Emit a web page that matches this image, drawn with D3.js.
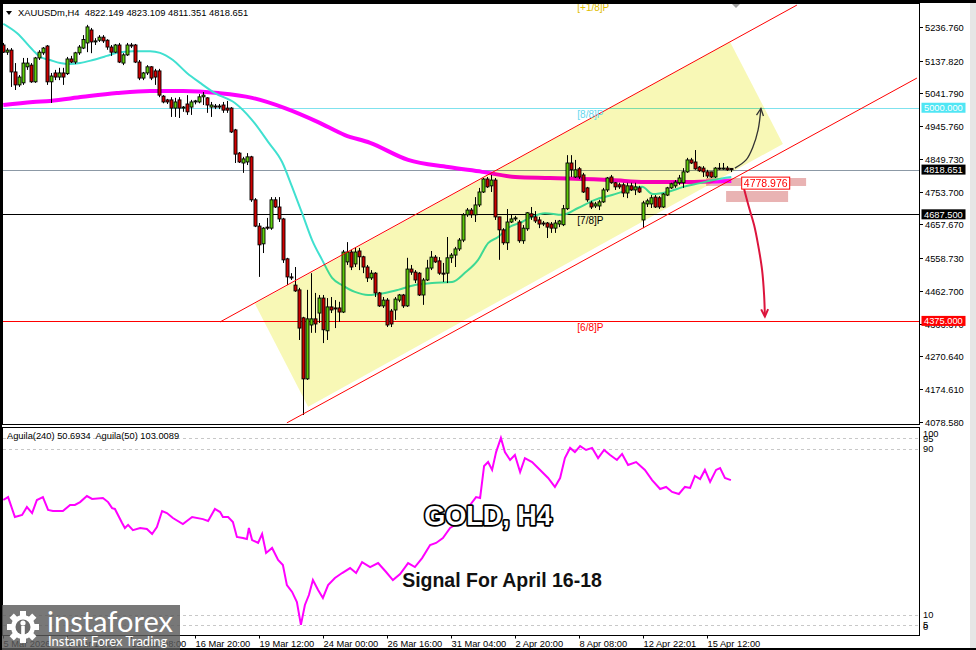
<!DOCTYPE html>
<html>
<head>
<meta charset="utf-8">
<script src="https://cdn.jsdelivr.net/npm/d3@7/dist/d3.min.js"></script>
<style>
  html, body { margin:0; padding:0; background:#ffffff; }
  svg { display:block; }
  text { font-family: "Liberation Sans", Arial, sans-serif; }
</style>
</head>
<body>
<svg id="chart" width="976" height="650"></svg>
<script>
// ---------------- DATA ----------------
const symbolHeader = "XAUUSDm,H4  4822.149 4823.109 4811.351 4818.651";
const indicatorHeader = "Aguila(240) 50.6934  Aguila(50) 103.0089";

const opens = [5184,5163,5169,5105,5067,5073,5120,5125,5076,5146,
5161,5181,5076,5102,5090,5102,5100,5143,5134,5161,
5175,5190,5228,5193,5198,5207,5198,5178,5163,5184,
5131,5155,5184,5184,5134,5087,5102,5120,5108,5108,
5034,5023,5023,4999,5023,4999,5011,5002,5017,5017,
5032,5029,5002,5005,5002,5008,4999,4999,4935,4867,
4838,4841,4856,4730,4653,4601,4650,4647,4730,4709,
4674,4557,4504,4480,4466,4384,4205,4363,4381,4398,
4442,4346,4416,4413,4413,4401,4548,4577,4542,4580,
4563,4533,4501,4515,4457,4419,4436,4404,4407,4436,
4451,4419,4527,4518,4515,4451,4495,4530,4562,4551,
4515,4515,4560,4568,4586,4612,4686,4700,4686,4715,
4753,4791,4771,4788,4680,4642,4604,4665,4674,4665,
4610,4645,4689,4680,4671,4662,4662,4659,4647,4659,
4657,4704,4838,4797,4821,4803,4765,4721,4712,4712,
4724,4759,4797,4780,4774,4774,4750,4771,4759,4765,
4671,4718,4718,4738,4736,4709,4744,4765,4771,4780,
4780,4812,4847,4841,4826,4823,4812,4812,4797,4823,
4821,4823,4822.149];

const highs = [5190,5175,5175,5131,5096,5146,5146,5131,5149,5169,
5178,5184,5102,5111,5117,5117,5149,5152,5164,5184,
5213,5243,5234,5204,5213,5213,5201,5184,5187,5190,
5160,5190,5190,5187,5140,5105,5125,5122,5114,5114,
5037,5026,5031,5029,5031,5005,5037,5023,5023,5040,
5046,5031,5017,5011,5011,5017,5020,5002,4938,4870,
4856,4867,4859,4735,4662,4650,4677,4738,4738,4738,
4677,4560,4515,4533,4472,4387,4466,4515,4457,4451,
4451,4442,4445,4436,4431,4583,4606,4583,4589,4589,
4566,4539,4524,4518,4460,4445,4442,4410,4445,4454,
4454,4560,4539,4524,4518,4501,4554,4580,4568,4562,
4545,4621,4574,4592,4618,4691,4706,4706,4738,4765,
4794,4797,4803,4794,4680,4647,4703,4686,4683,4671,
4656,4694,4709,4697,4680,4668,4665,4665,4671,4671,
4715,4861,4861,4847,4826,4809,4768,4727,4724,4730,
4765,4797,4803,4782,4780,4780,4780,4780,4780,4771,
4727,4733,4744,4744,4741,4750,4768,4780,4788,4803,
4823,4853,4853,4876,4829,4829,4818,4812,4826,4838,
4838,4829,4823.109];

const lows = [5161,5155,5061,5052,5061,5067,5111,5073,5073,5140,
5155,5067,5014,5081,5081,5067,5096,5131,5128,5155,
5172,5163,5160,5184,5193,5190,5170,5152,5160,5131,
5125,5152,5175,5131,5081,5081,5096,5081,5067,5031,
5013,5011,4973,4973,4970,4988,4979,4979,5010,5013,
5008,4985,4973,4996,4996,4985,4985,4926,4838,4838,
4809,4832,4724,4650,4504,4574,4642,4642,4706,4665,
4545,4480,4495,4460,4319,4099,4202,4340,4340,4369,
4310,4319,4398,4354,4372,4398,4539,4524,4533,4524,
4515,4489,4495,4445,4416,4413,4357,4357,4378,4430,
4413,4416,4510,4486,4448,4422,4492,4524,4545,4510,
4489,4486,4545,4533,4580,4606,4680,4677,4665,4709,
4750,4765,4753,4671,4554,4598,4583,4662,4668,4604,
4601,4639,4671,4662,4647,4653,4618,4633,4633,4650,
4653,4700,4797,4794,4791,4750,4724,4703,4706,4700,
4721,4753,4777,4759,4762,4738,4735,4756,4744,4750,
4647,4709,4706,4706,4703,4706,4741,4762,4765,4774,
4765,4809,4835,4818,4812,4797,4794,4794,4794,4818,
4818,4815,4811.351];

const closes = [5163,5169,5105,5067,5090,5131,5131,5076,5146,5163,
5175,5076,5093,5090,5102,5090,5143,5134,5161,5178,
5200,5237,5193,5196,5207,5196,5178,5163,5184,5134,
5155,5184,5181,5134,5087,5102,5120,5087,5090,5037,
5017,5017,4999,5017,4999,5002,4988,5017,5020,5032,
5037,5008,5008,5002,5005,4993,4993,4929,4864,4841,
4850,4856,4730,4653,4598,4647,4647,4730,4709,4674,
4554,4504,4501,4463,4354,4205,4381,4381,4366,4442,
4349,4416,4407,4410,4401,4577,4577,4533,4577,4563,
4533,4501,4515,4457,4419,4436,4363,4366,4439,4451,
4419,4527,4518,4495,4451,4495,4530,4562,4548,4515,
4513,4560,4568,4586,4612,4686,4700,4686,4715,4753,
4791,4768,4788,4680,4642,4604,4665,4674,4677,4610,
4647,4692,4680,4668,4659,4659,4650,4647,4662,4668,
4704,4838,4818,4818,4797,4753,4730,4709,4718,4724,
4759,4794,4780,4768,4768,4750,4771,4759,4768,4753,
4721,4727,4736,4709,4709,4747,4765,4777,4782,4794,
4812,4847,4838,4821,4815,4812,4800,4797,4823,4821,
4823,4818,4818.651];

// moving averages (bar position, price)
const maFastIdx = [0,3.4,7.4,9.2,11.7,14.2,16.7,19.2,22.4,25.9,28.4,32.4,36.7,39.2,42.4,45.9,49.2,52.9,57.9,62.2,
66.2,69.7,72.2,74.7,77.2,79.7,82.2,84.7,87.9,91.2,95.4,98.7,102.9,107.2,112.2,115.4,118.7,121.2,123.7,126.2,
129.7,132.2,135.4,139.7,143.7,147.9,152.2,156.2,159.7,162.4,166,170,174.2,177.4,182];
const maFastVal = [5246,5219,5169,5149,5140,5131,5128,5131,5140,5152,5161,5166,5166,5161,5140,5102,5073,5043,5014,4964,
4900,4841,4768,4691,4612,4554,4501,4480,4460,4451,4457,4466,4480,4486,4489,4516,4554,4603,4621,4648,
4665,4680,4691,4686,4706,4730,4744,4759,4768,4747,4753,4768,4779,4788,4797];
const maSlowIdx = [0,7.4,11.7,19.9,28.4,36.7,45,53.7,62.2,70.4,78.7,85.4,91.7,101.2,111.2,119.7,128,136.7,152.2,160.4,168.7,182];
const maSlowVal = [5008,5017,5020,5032,5043,5049,5049,5043,5029,4999,4958,4920,4897,4847,4826,4812,4797,4794,4788,4782,4782,4785];

// Aguila oscillator (bar position, value)
const aguilaIdx = [0,1.2,2.9,4.7,5.9,7.2,8.4,9.9,11.2,12.4,14.9,16.7,17.9,19.2,20.9,22.2,24.9,26.2,27.2,27.9,
29.7,30.4,31.2,32.4,34.2,35.9,37.2,38.4,39.7,40.9,42.4,44.9,47.2,49.9,51.2,52.9,54.2,54.9,56.2,57.4,
58.4,59.9,60.9,61.4,62.2,63.7,64.7,65.7,67.2,68.7,69.9,70.9,72.2,73.4,74.4,75.4,76.4,77.4,78.7,79.9,
81.2,82.9,84.7,86.7,88.2,89.7,91.7,93.7,95.7,97.4,99.2,101.2,102.9,104.7,106.7,108.2,109.9,111.7,113.7,115.4,
116.7,118.2,119.2,120.2,121.2,122.2,123.2,124.4,125.4,126.7,127.9,129.2,130.4,132.2,134.2,136.2,137.9,139.2,140.4,141.7,
142.9,144.2,145.7,147.2,148.7,150.2,151.7,153.4,154.7,156.2,158.2,160.4,162.2,164.2,165.7,167.2,168.9,170.4,171.7,172.9,
174.2,175.4,176.7,178.2,179.2,180.4,181.9];
const aguilaVal = [65.3,66.7,57.1,58.1,61.9,59.0,65.3,66.7,60.5,60.0,60.0,62.9,62.9,64.3,67.2,65.8,66.3,64.3,61.4,61.0,
54.2,51.8,53.3,50.8,51.8,51.3,48.9,52.3,60.0,59.0,56.6,53.7,57.1,56.1,55.2,61.0,59.5,57.1,57.1,54.7,
47.5,47.0,46.5,51.8,46.0,44.6,48.9,39.8,42.2,36.4,34.0,24.3,21.0,16.1,5.1,14.7,19.5,26.7,21.9,18.1,
24.3,27.7,30.1,32.5,30.1,35.4,33.0,34.9,30.6,26.7,29.6,34.9,33.0,37.3,43.6,44.6,47.0,51.8,54.2,56.6,
62.9,66.7,66.3,81.7,83.6,79.8,88.4,95.2,88.4,84.6,87.0,78.8,85.5,83.6,79.8,75.9,71.6,75.9,85.5,90.4,
88.4,91.3,89.4,90.4,85.5,89.4,87.0,84.6,87.5,82.2,83.6,79.8,74.9,70.6,71.6,69.2,68.2,71.6,71.1,76.9,
75.4,79.8,74.0,79.8,80.7,75.9,74.9];

const priceTicks = [5236.760,5137.820,5041.790,4945.760,4849.730,4753.700,4657.670,4558.730,4462.700,4366.670,4270.640,4174.610,4078.580];
const indicatorTicks = [100,95,90,10,5,0];
const indicatorLevels = [95,90,10,5];
const timeTickIdx = [0,16,32,48,64,80,96,112,128,144,160,176];
const timeTickLabels = ["5 Mar 2026","9 Mar 16:00","12 Mar 08:00","16 Mar 20:00","19 Mar 12:00","24 Mar 00:00","26 Mar 16:00","31 Mar 04:00","2 Apr 20:00","8 Apr 08:00","12 Apr 22:01","15 Apr 12:00"];

const levelPrices = [5312.5, 5000, 4687.5, 4375];
const levelNames = ["[+1/8]P","[8/8]P","[7/8]P","[6/8]P"];
const levelLabelIdx = 143.5;
const currentPrice = 4818.651;

const channelUpper = [[54.2,4372],[198.4,5301]];
const channelLower = [[70.9,4076],[228.4,5087]];
const channelFill = [[62.9,4425],[181.7,5193],[194.9,4894],[76.2,4123]];
const targetUp = [[182.9,4823],[185.7,4847],[187.4,4885],[188.7,4935],[189.4,4998]];
const targetDown = [[185.2,4762],[186.4,4709],[187.7,4656],[188.7,4598],[189.7,4524],[190.2,4451],[190.4,4388]];
const zoneA = [175.7,200.7,4770.6,4794];
const zoneB = [180.7,196.2,4723.6,4755.9];
const pivotIdx = 190.6, pivotPrice = 4778.976;

// ---------------- DRAW ----------------
const svg = d3.select("#chart");
const xs = d3.scaleLinear().domain([0, 228.5]).range([3.3, 917.3]);
const ys = d3.scaleLinear().domain([4072.7, 5301.26]).range([424, 5]);
const yi = d3.scaleLinear().domain([0, 100]).range([635.5, 428]);

svg.append("rect").attr("width",976).attr("height",650).attr("fill","#ffffff");

const defs = svg.append("defs");
defs.append("clipPath").attr("id","mainClip").append("rect")
  .attr("x",3).attr("y",3).attr("width",916.5).attr("height",421.5);
defs.append("clipPath").attr("id","indClip").append("rect")
  .attr("x",3).attr("y",428).attr("width",916.5).attr("height",207);

const main = svg.append("g").attr("clip-path","url(#mainClip)");

// pink zones
[zoneA, zoneB].forEach(z => {
  main.append("rect")
    .attr("x", xs(z[0])).attr("width", xs(z[1]) - xs(z[0]))
    .attr("y", ys(z[3])).attr("height", ys(z[2]) - ys(z[3]))
    .attr("fill", "#e9b3b3");
});

// horizontal levels
const levelLineColors = ["#e8c400","#7fe2ee","#000000","#ff0000"];
const levelTextColors = ["#e0bc00","#66d8ee","#000000","#ff0000"];
levelPrices.forEach((p,i) => {
  const yy = Math.round(ys(p)) + 0.5;
  main.append("line").attr("x1",3).attr("x2",920).attr("y1",yy).attr("y2",yy)
    .attr("stroke",levelLineColors[i]).attr("stroke-width",1);
});
{
  const yy = Math.round(ys(currentPrice)) + 0.5;
  main.append("line").attr("x1",3).attr("x2",920).attr("y1",yy).attr("y2",yy)
    .attr("stroke","#8c99a6").attr("stroke-width",1);
}

// moving averages
const maLine = d3.line().x(d => xs(d[0])).y(d => ys(d[1])).curve(d3.curveMonotoneX);
main.append("path").datum(d3.zip(maSlowIdx, maSlowVal))
  .attr("d", maLine).attr("fill","none").attr("stroke","#ff00ff").attr("stroke-width",4);
main.append("path").datum(d3.zip(maFastIdx, maFastVal))
  .attr("d", maLine).attr("fill","none").attr("stroke","#40e0d0").attr("stroke-width",2);

// candles
const candles = main.append("g");
opens.forEach((o,i) => {
  const h = highs[i], l = lows[i], c = closes[i];
  const cx = Math.round(xs(i)) + 0.5;
  candles.append("line").attr("x1",cx).attr("x2",cx)
    .attr("y1",ys(h)).attr("y2",ys(l)).attr("stroke","#000").attr("stroke-width",1);
  const top = ys(Math.max(o,c)), bot = ys(Math.min(o,c));
  candles.append("rect").attr("x",cx-1.5).attr("width",3)
    .attr("y",top).attr("height",Math.max(1,bot-top))
    .attr("fill", c >= o ? "#5fcf0e" : "#d10000")
    .attr("stroke","#000").attr("stroke-width",0.9);
});

// channel lines
[channelUpper, channelLower].forEach(seg => {
  main.append("line")
    .attr("x1",xs(seg[0][0])).attr("y1",ys(seg[0][1]))
    .attr("x2",xs(seg[1][0])).attr("y2",ys(seg[1][1]))
    .attr("stroke","#ff0000").attr("stroke-width",1);
});

// channel fill (multiplied like a background object)
main.append("path")
  .attr("d", "M" + channelFill.map(d => xs(d[0]) + "," + ys(d[1])).join("L") + "Z")
  .attr("fill","#f8f8b6").style("mix-blend-mode","multiply");

// level labels
levelPrices.forEach((p,i) => {
  svg.append("text").attr("x", xs(levelLabelIdx)).attr("y", ys(p) + 10)
    .attr("font-size", 10).attr("fill", levelTextColors[i]).text(levelNames[i]);
});

// arrows
function arrow(pts, color, width) {
  const line = d3.line().x(d => xs(d[0])).y(d => ys(d[1])).curve(d3.curveCatmullRom);
  main.append("path").datum(pts).attr("d", line).attr("fill","none")
    .attr("stroke", color).attr("stroke-width", width);
  const a = pts[pts.length-2], b = pts[pts.length-1];
  const ax = xs(a[0]), ay = ys(a[1]), bx = xs(b[0]), by = ys(b[1]);
  const ang = Math.atan2(by-ay, bx-ax);
  const L = 8, spread = 0.45;
  const p1 = [bx - L*Math.cos(ang-spread), by - L*Math.sin(ang-spread)];
  const p2 = [bx - L*Math.cos(ang+spread), by - L*Math.sin(ang+spread)];
  main.append("path").attr("d", `M${p1[0]},${p1[1]}L${bx},${by}L${p2[0]},${p2[1]}`)
    .attr("fill","none").attr("stroke",color).attr("stroke-width",width);
}
arrow(targetUp, "#333333", 1.3);
arrow(targetDown, "#dc143c", 2);

// pivot label
{
  const px = xs(pivotIdx), py = ys(pivotPrice);
  main.append("rect").attr("x", px-24).attr("y", py-6).attr("width",48).attr("height",12)
    .attr("fill","#ffffff").attr("stroke","#ff0000").attr("stroke-width",1);
  main.append("text").attr("x", px).attr("y", py+3.8).attr("text-anchor","middle")
    .attr("font-size",10.5).attr("fill","#ff0000").text(pivotPrice.toFixed(3));
}

// shift marker
svg.append("path").attr("d","M731,3L741,3L736,8Z").attr("fill","#a0a0a0");

// ---------------- INDICATOR ----------------
const ind = svg.append("g").attr("clip-path","url(#indClip)");
indicatorLevels.forEach(v => {
  ind.append("line").attr("x1",3).attr("x2",920)
    .attr("y1",Math.round(yi(v))+0.5).attr("y2",Math.round(yi(v))+0.5)
    .attr("stroke","#c8c8c8").attr("stroke-dasharray","3,3");
});
ind.append("path").datum(d3.zip(aguilaIdx, aguilaVal))
  .attr("d", d3.line().x(d => xs(d[0])).y(d => yi(d[1])))
  .attr("fill","none").attr("stroke","#ff00ff").attr("stroke-width",2);

// texts in indicator
svg.append("text").attr("x",7).attr("y",439).attr("font-size",9.3)
  .style("white-space","pre").text(indicatorHeader);
svg.append("text").attr("x",488).attr("y",525).attr("text-anchor","middle")
  .attr("font-size",27).attr("font-weight","bold")
  .attr("fill","#ffffff").attr("stroke","#000000").attr("stroke-width",3.5)
  .style("paint-order","stroke").attr("stroke-linejoin","round").text("GOLD, H4");
svg.append("text").attr("x",502).attr("y",587).attr("text-anchor","middle")
  .attr("font-size",19.5).attr("font-weight","bold")
  .attr("fill","#111111").attr("stroke","#ffffff").attr("stroke-width",2)
  .style("paint-order","stroke").text("Signal For April 16-18");

// ---------------- FRAMES & AXES ----------------
svg.append("rect").attr("x",2.5).attr("y",3.5).attr("width",917).attr("height",421)
  .attr("fill","none").attr("stroke","#000");
svg.append("rect").attr("x",2.5).attr("y",427.5).attr("width",917).attr("height",208)
  .attr("fill","none").attr("stroke","#000");

// header
svg.append("path").attr("d","M6,11L12,11L9,15Z").attr("fill","#000");
svg.append("text").attr("x",18).attr("y",16).attr("font-size",9.4)
  .style("white-space","pre").text(symbolHeader);

// price axis
priceTicks.forEach(p => {
  const yy = Math.round(ys(p)) + 0.5;
  svg.append("line").attr("x1",920).attr("x2",923).attr("y1",yy).attr("y2",yy).attr("stroke","#000");
  svg.append("text").attr("x",925).attr("y",yy+3.3).attr("font-size",9.3).text(p.toFixed(3));
});
const boxColors = ["#50e6f4","#000000","#000000","#ff0000"];
const boxPrices = [5000, currentPrice, 4687.5, 4375];
boxPrices.forEach((p,i) => {
  const yy = ys(p);
  svg.append("rect").attr("x",921.5).attr("y",yy-5).attr("width",44).attr("height",10).attr("fill",boxColors[i]);
  svg.append("text").attr("x",924).attr("y",yy+3.3).attr("font-size",9.3).attr("fill","#ffffff").text(p.toFixed(3));
});

// indicator axis
indicatorTicks.forEach(v => {
  const yy = Math.max(434, Math.min(627, yi(v)));
  svg.append("text").attr("x",923).attr("y",yy+3.3).attr("font-size",9.3).text(v);
});

// time axis
timeTickIdx.forEach((t,i) => {
  const xx = Math.round(xs(t)) + 0.5;
  svg.append("line").attr("x1",xx).attr("x2",xx).attr("y1",635).attr("y2",638.5).attr("stroke","#000");
  svg.append("text").attr("x",xx).attr("y",646.5).attr("font-size",9.3).text(timeTickLabels[i]);
});

// outer border pieces
svg.append("rect").attr("x",0).attr("y",0).attr("width",976).attr("height",3).attr("fill","#000");
svg.append("rect").attr("x",0).attr("y",0).attr("width",2).attr("height",650).attr("fill","#000");
svg.append("rect").attr("x",0).attr("y",648).attr("width",976).attr("height",2).attr("fill","#000");
svg.append("rect").attr("x",970).attr("y",3).attr("width",6).attr("height",645).attr("fill","#e6e6e6");

// ---------------- LOGO ----------------
const logo = svg.append("g");
logo.append("rect").attr("x",2).attr("y",605).attr("width",178).attr("height",45)
  .attr("fill","#5a5a5a").attr("opacity",0.82);
const gx = 23, gy = 627;
for (let k = 0; k < 8; k++) {
  logo.append("rect").attr("x",gx-3).attr("y",gy-16).attr("width",6).attr("height",7)
    .attr("fill","#ffffff").attr("transform",`rotate(${k*45},${gx},${gy})`);
}
logo.append("circle").attr("cx",gx).attr("cy",gy).attr("r",12).attr("fill","#ffffff");
logo.append("circle").attr("cx",gx).attr("cy",gy).attr("r",7.5).attr("fill","#6a6a6a");
logo.append("circle").attr("cx",gx).attr("cy",gy-4).attr("r",2.6).attr("fill","#ffffff");
logo.append("rect").attr("x",gx-1.8).attr("y",gy-1).attr("width",3.6).attr("height",9).attr("fill","#ffffff");
logo.append("text").attr("x",47).attr("y",632).attr("font-size",29)
  .style("font-family","Lato, 'Open Sans', sans-serif").attr("fill","#ffffff").text("instaforex");
logo.append("text").attr("x",48).attr("y",646).attr("font-size",13)
  .style("font-family","Lato, 'Open Sans', sans-serif").attr("fill","#ffffff").text("Instant Forex Trading");
</script>
</body>
</html>
